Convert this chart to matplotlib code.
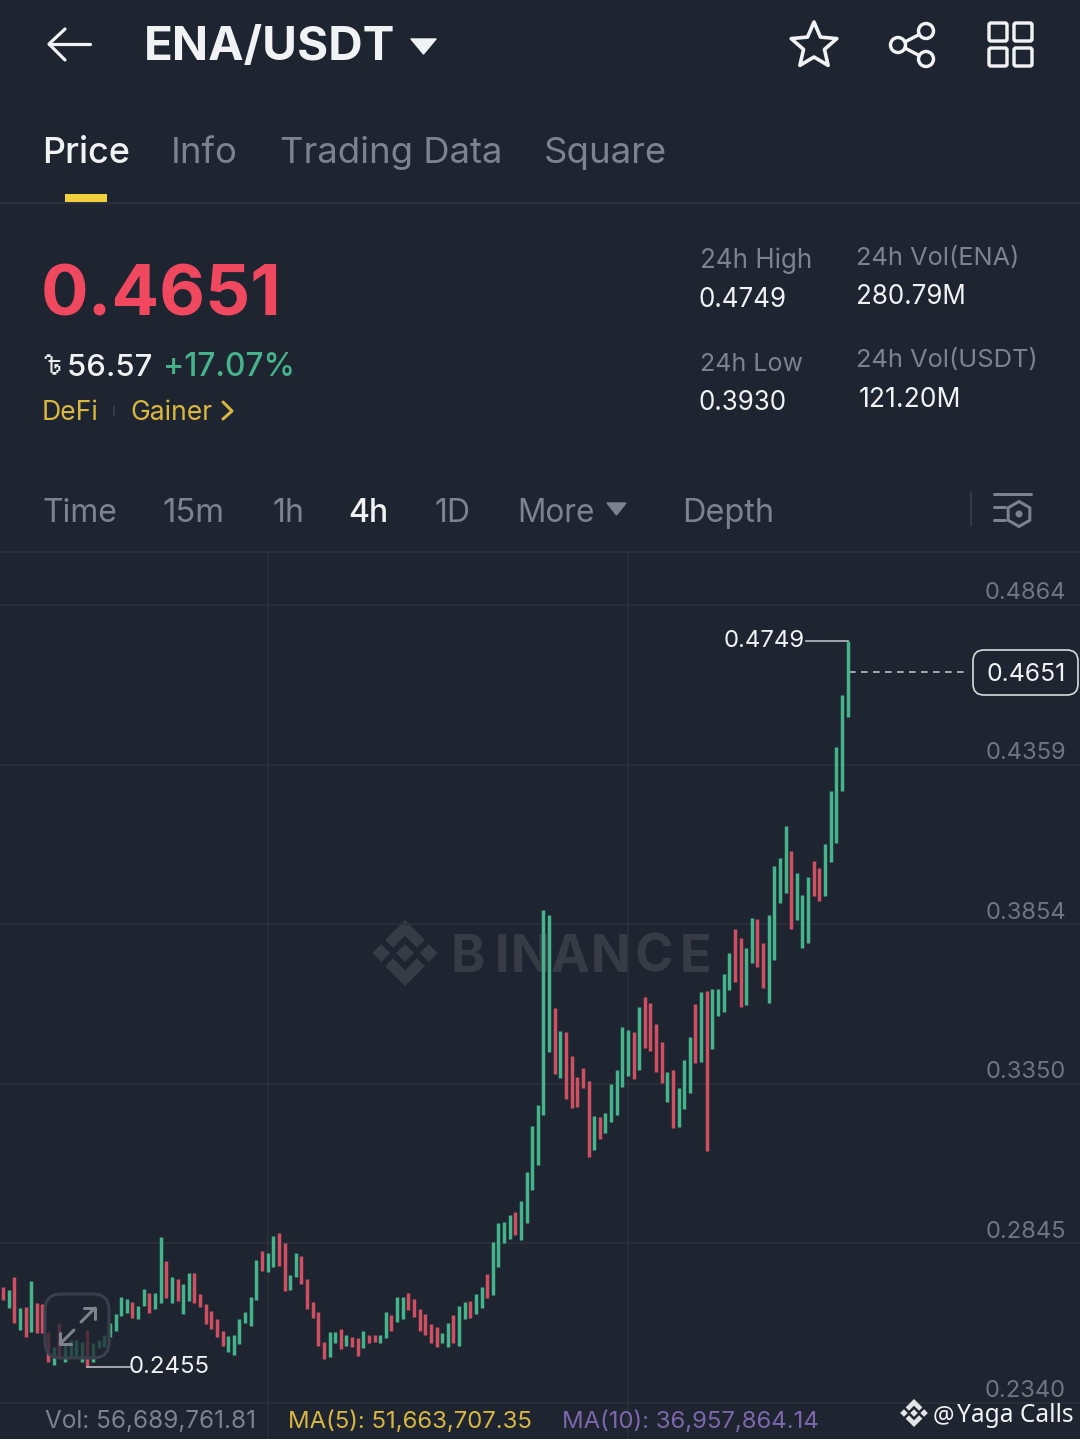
import matplotlib
matplotlib.use('Agg')
import matplotlib.pyplot as plt
from matplotlib import font_manager
from matplotlib.ft2font import FT2Font
from matplotlib.patches import FancyBboxPatch, Polygon, Circle
import numpy as np

plt.rcParams['font.family'] = ['Inter', 'Noto Sans', 'DejaVu Sans']

# candles, oldest first
highs = [.2707, .2698, .2739, .2641, .2644, .2726, .2656, .2653, .2565, .2517,
         .2593, .2530, .2539, .2539, .2533, .2571, .2530, .2539, .2555, .2593,
         .2622, .2675, .2669, .2660, .2647, .2701, .2688, .2688, .2865, .2789,
         .2739, .2732, .2717, .2751, .2751, .2685, .2653, .2631, .2606, .2568,
         .2552, .2555, .2606, .2628, .2675, .2792, .2821, .2815, .2868, .2878,
         .2846, .2745, .2815, .2805, .2732, .2660, .2628, .2533, .2565, .2565,
         .2574, .2555, .2549, .2546, .2568, .2555, .2555, .2555, .2628, .2618,
         .2675, .2675, .2688, .2669, .2637, .2622, .2590, .2580, .2561, .2593,
         .2618, .2647, .2660, .2663, .2685, .2707, .2748, .2849, .2910, .2913,
         .2935, .2944, .2979, .3071, .3216, .3283, .3900, .3884, .3590, .3517,
         .3514, .3438, .3371, .3400, .3359, .3248, .3245, .3258, .3349, .3394,
         .3530, .3520, .3514, .3593, .3625, .3606, .3539, .3482, .3387, .3394,
         .3337, .3425, .3498, .3602, .3640, .3644, .3650, .3650, .3697, .3764,
         .3840, .3811, .3780, .3875, .3871, .3795, .3884, .4039, .4064, .4166,
         .4087, .4017, .3947, .4004, .4055, .4033, .4109, .4276, .4416, .4580,
         .4749]
lows = [.2666, .2641, .2593, .2571, .2549, .2565, .2561, .2561, .2470, .2460,
        .2486, .2470, .2486, .2486, .2470, .2455, .2470, .2514, .2517, .2549,
        .2568, .2615, .2625, .2609, .2606, .2647, .2625, .2637, .2656, .2672,
        .2656, .2663, .2622, .2663, .2656, .2644, .2590, .2574, .2549, .2520,
        .2501, .2492, .2527, .2593, .2584, .2666, .2758, .2754, .2770, .2773,
        .2694, .2698, .2739, .2717, .2637, .2609, .2520, .2479, .2486, .2530,
        .2511, .2520, .2517, .2489, .2514, .2530, .2533, .2530, .2546, .2568,
        .2596, .2606, .2634, .2612, .2568, .2555, .2530, .2517, .2530, .2517,
        .2530, .2520, .2606, .2609, .2622, .2641, .2672, .2682, .2770, .2846,
        .2859, .2872, .2856, .2910, .3014, .3093, .3251, .3451, .3381, .3368,
        .3302, .3273, .3277, .3337, .3118, .3140, .3175, .3194, .3229, .3251,
        .3340, .3375, .3365, .3394, .3463, .3454, .3387, .3352, .3292, .3210,
        .3213, .3270, .3321, .3416, .3419, .3137, .3460, .3564, .3577, .3647,
        .3672, .3593, .3599, .3732, .3720, .3653, .3606, .3742, .3922, .3954,
        .3840, .3868, .3780, .3795, .3944, .3928, .3944, .4052, .4112, .4276,
        .4511]
colours = ('rgrgrgrrrg' 'rggggrgggg' 'gggrggrggr' 'grggrrrrrr' 'ggggggrggr'
           'rggrrrrrgg' 'rgrrgrrggr' 'ggrrrrrrgg' 'rggrggrggg' 'grggggggrg'
           'rrrrrgrggg' 'ggrgrrrrgr' 'gggrgrgggg' 'rrggrrgggg' 'rgggrrggggg')

y_ticks = [0.4864, 0.4359, 0.3854, 0.3350, 0.2845, 0.2340]
time_ticks = [47, 111]
last_price = 0.4651
max_idx, max_price = 150, 0.4749
min_idx, min_price = 15, 0.2455

BG = '#1e2430'
GRID = '#2b303b'
GREEN = '#45b48b'
RED = '#cf4f63'
GREY = '#7d838e'
WHITE = '#f1f2f4'
GOLD = '#d8b840'

W, H = 1080, 1439
fig = plt.figure(figsize=(W / 100, H / 100), dpi=100, facecolor=BG)

# pixel axes for the app chrome, behind the chart
ui = fig.add_axes([0, 0, 1, 1], zorder=1)
ui.set_xlim(0, W)
ui.set_ylim(H, 0)
ui.axis('off')

# chart
top_px = 553
ax = fig.add_axes([0, 0, 1, (H - top_px) / H], zorder=2)
ax.patch.set_alpha(0)
step = 5.63
ax.set_xlim(-3 / step, (W - 3) / step)
per_px = 0.0505 / 159.6
ax.set_ylim(0.2340 - (H - 1403) * per_px, 0.4864 + (605 - top_px) * per_px)
ax.axis('off')

# overlay for button
over = fig.add_axes([0, 0, 1, 1], zorder=3)
over.patch.set_alpha(0)
over.set_xlim(0, W)
over.set_ylim(H, 0)
over.axis('off')


def label(x, y, s, size, color=WHITE, ha='left', weight='normal', a=None, **kw):
    (a or ui).text(x, y, s, fontsize=size * 0.72, color=color, ha=ha, va='baseline',
                   fontweight=weight, **kw)


def stroke(xs, ys, color=WHITE, lw=3, a=None, **kw):
    (a or ui).plot(xs, ys, color=color, lw=lw * 0.72, solid_capstyle='round',
                   solid_joinstyle='round', **kw)


def logo(a, cx, cy, r, color, z=1):
    for dx in (-0.72, 0, 0.72):
        s = 0.27
        a.add_patch(Polygon([(cx + (dx - s) * r, cy), (cx + dx * r, cy - s * r),
                             (cx + (dx + s) * r, cy), (cx + dx * r, cy + s * r)],
                            fc=color, ec='none', zorder=z))
    for sign in (-1, 1):
        pts = [(0, 1), (0.6, 0.4), (0.36, 0.16), (0, 0.52), (-0.36, 0.16), (-0.6, 0.4)]
        a.add_patch(Polygon([(cx + px * r, cy + sign * py * r) for px, py in pts],
                            fc=color, ec='none', zorder=z))


def family_with(ch):
    # look for an installed font that has this sign
    for f in font_manager.fontManager.ttflist:
        try:
            if ord(ch) in FT2Font(f.fname).get_charmap():
                return f.name
        except Exception:
            pass
    return 'DejaVu Sans'


# header
stroke([49, 90], [44, 44], lw=3.2)
stroke([65, 49, 65], [29, 44, 60], lw=3.2)
label(144, 60, 'ENA/USDT', 47.6, weight='bold')
ui.add_patch(Polygon([(411, 39), (436, 39), (423.5, 54)], fc=WHITE, ec=WHITE, lw=1, joinstyle='round'))

angles = np.pi / 2 + np.arange(10) * np.pi / 5
radii = np.where(np.arange(10) % 2 == 0, 24, 11)
ui.add_patch(Polygon(np.c_[814 + radii * np.cos(angles), 46 - radii * np.sin(angles)],
                     fc='none', ec=WHITE, lw=3.6 * 0.72, joinstyle='round'))

stroke([899, 926], [45, 31], lw=3.4)
stroke([899, 926], [45, 59], lw=3.4)
for cx, cy in [(898, 45), (926, 31), (926, 59)]:
    ui.add_patch(Circle((cx, cy), 7.5, fc=BG, ec=WHITE, lw=3.4 * 0.72, zorder=3))
for x0 in (989, 1014):
    for y0 in (23, 48):
        ui.add_patch(FancyBboxPatch((x0 + 2, y0 + 2), 14, 14, boxstyle='round,pad=2,rounding_size=2',
                                    fc='none', ec=WHITE, lw=3.4 * 0.72))

# tabs
label(42, 163, 'Price', 36, weight='medium')
label(171, 163, 'Info', 36.5, GREY)
label(280, 163, 'Trading Data', 36.5, GREY)
label(544, 163, 'Square', 36.5, GREY)
ui.add_patch(plt.Rectangle((65, 194), 42, 8, fc='#f3d03e', ec='none', zorder=3))
ui.axhline(203, color=GRID, lw=1.6)

# price block
label(41, 315, '0.4651', 70.7, '#f0485f', weight='bold')
label(36, 376, '৳56.57', 31, WHITE, weight='medium', family=['Inter', family_with('৳')])
label(163, 376, '+17.07%', 31.7, GREEN, weight='medium')
label(42, 420, 'DeFi', 26.5, GOLD)
stroke([114, 114], [406, 416], color='#3a3f49', lw=1.6)
label(130, 420, 'Gainer', 26.5, GOLD)
stroke([223, 232, 223], [402, 411, 419], color=GOLD, lw=3)

label(700, 268, '24h High', 26, GREY)
label(699, 307, '0.4749', 26)
label(700, 371, '24h Low', 25, GREY)
label(699, 410, '0.3930', 26)
label(856, 265, '24h Vol(ENA)', 25.4, GREY)
label(856, 304, '280.79M', 26)
label(856, 367, '24h Vol(USDT)', 25.4, GREY)
label(859, 407, '121.20M', 26.5)

# interval row
for x, s, size in [(42, 'Time', 32), (162, '15m', 33), (273, '1h', 32), (435, '1D', 32),
                   (517, 'More', 31.5), (682, 'Depth', 32.5)]:
    label(x, 522, s, size, GREY)
label(348, 522, '4h', 32, weight='medium')
ui.add_patch(Polygon([(607, 503), (626, 503), (616.5, 515)], fc=GREY, ec=GREY, lw=1))
stroke([971, 971], [492, 526], color='#3a3f49', lw=1.6)
stroke([994, 1031], [494, 494], color=GREY, lw=3)
stroke([994, 1005], [507, 507], color=GREY, lw=3)
stroke([994, 1005], [520, 520], color=GREY, lw=3)
hex_a = np.pi / 2 + np.arange(6) * np.pi / 3
ui.add_patch(Polygon(np.c_[1019 + 12.5 * np.cos(hex_a), 514 + 12.5 * np.sin(hex_a)],
                     fc='none', ec=GREY, lw=3 * 0.72))
ui.add_patch(Circle((1019, 514), 3.5, fc=GREY, ec='none'))
ui.axhline(552, color=GRID, lw=1.6)

# watermark, letters spaced out by hand
logo(ui, 405, 953, 33, '#363b46', z=2)
for x, ch in zip([451, 495, 511, 551, 591, 635, 680], 'BINANCE'):
    label(x, 972, ch, 52, '#363b46', weight='bold', zorder=2)

# grid, candles
for p in y_ticks:
    ax.axhline(p, color=GRID, lw=1.2, zorder=1)
    ax.annotate(f'{p:.4f}', (1066 / W, p), xycoords=('axes fraction', 'data'),
                xytext=(0, 0.4), textcoords='offset points', ha='right', va='bottom',
                fontsize=23.7 * 0.72, color='#6f7681')
for t in time_ticks:
    ax.axvline(t, color=GRID, lw=1.2, zorder=1)

idx = np.arange(len(highs))
bar_cols = [GREEN if c == 'g' else RED for c in colours]
ax.vlines(idx, lows, highs, colors=bar_cols, lw=2.5, capstyle='butt', zorder=3)

# high / low markers
ax.plot([max_idx - 7.4, max_idx], [max_price, max_price], color='#b9bcc2', lw=1.2, zorder=2)
ax.text(max_idx - 7.6, max_price, f'{max_price:.4f}', ha='right', va='center',
        fontsize=24 * 0.72, color=WHITE)
ax.plot([min_idx, min_idx + 7.6], [min_price, min_price], color='#b9bcc2', lw=1.2, zorder=4)
ax.text(min_idx + 7.4, min_price, f'{min_price:.4f}', ha='left', va='center',
        fontsize=24 * 0.72, color=WHITE)

# last price
ax.plot([max_idx + 0.3, max_idx + 21.5], [last_price, last_price], color='#b9bcc2',
        lw=1.2, dashes=(4, 3.2), zorder=2)
over.add_patch(FancyBboxPatch((982, 659), 87, 27, boxstyle='round,pad=9,rounding_size=11',
                              fc=BG, ec='#d8dadd', lw=1.2))
label(1026, 681, f'{last_price:.4f}', 24.8, ha='center', a=over)

# expand button
over.add_patch(FancyBboxPatch((52, 1301), 50, 50, boxstyle='round,pad=7,rounding_size=16',
                              fc=BG, alpha=0.72, ec='none'))
over.add_patch(FancyBboxPatch((52, 1301), 50, 50, boxstyle='round,pad=7,rounding_size=16',
                              fc='none', ec='#3a404b', lw=2.2))
arrow = '#7e838c'
stroke([81, 95], [1322, 1308], color=arrow, a=over, lw=3)
stroke([84, 95, 95], [1308, 1308, 1319], color=arrow, a=over, lw=3)
stroke([60, 74], [1344, 1330], color=arrow, a=over, lw=3)
stroke([60, 60, 71], [1333, 1344, 1344], color=arrow, a=over, lw=3)

# footer
label(45, 1428, 'Vol: 56,689,761.81', 24.3, GREY, a=over)
label(288, 1428, 'MA(5): 51,663,707.35', 24, GOLD, a=over)
label(562, 1428, 'MA(10): 36,957,864.14', 24, '#7d67ad', a=over)

# source tag
logo(over, 914, 1413, 14, '#e3e4e6')
label(933, 1422, '@', 24, WHITE, a=over, family=['Noto Sans', 'DejaVu Sans'])
label(957, 1422, 'Yaga Calls', 24.5, WHITE, a=over, family=['Noto Sans', 'DejaVu Sans'])

fig.savefig('out.png', dpi=100, facecolor=BG)
